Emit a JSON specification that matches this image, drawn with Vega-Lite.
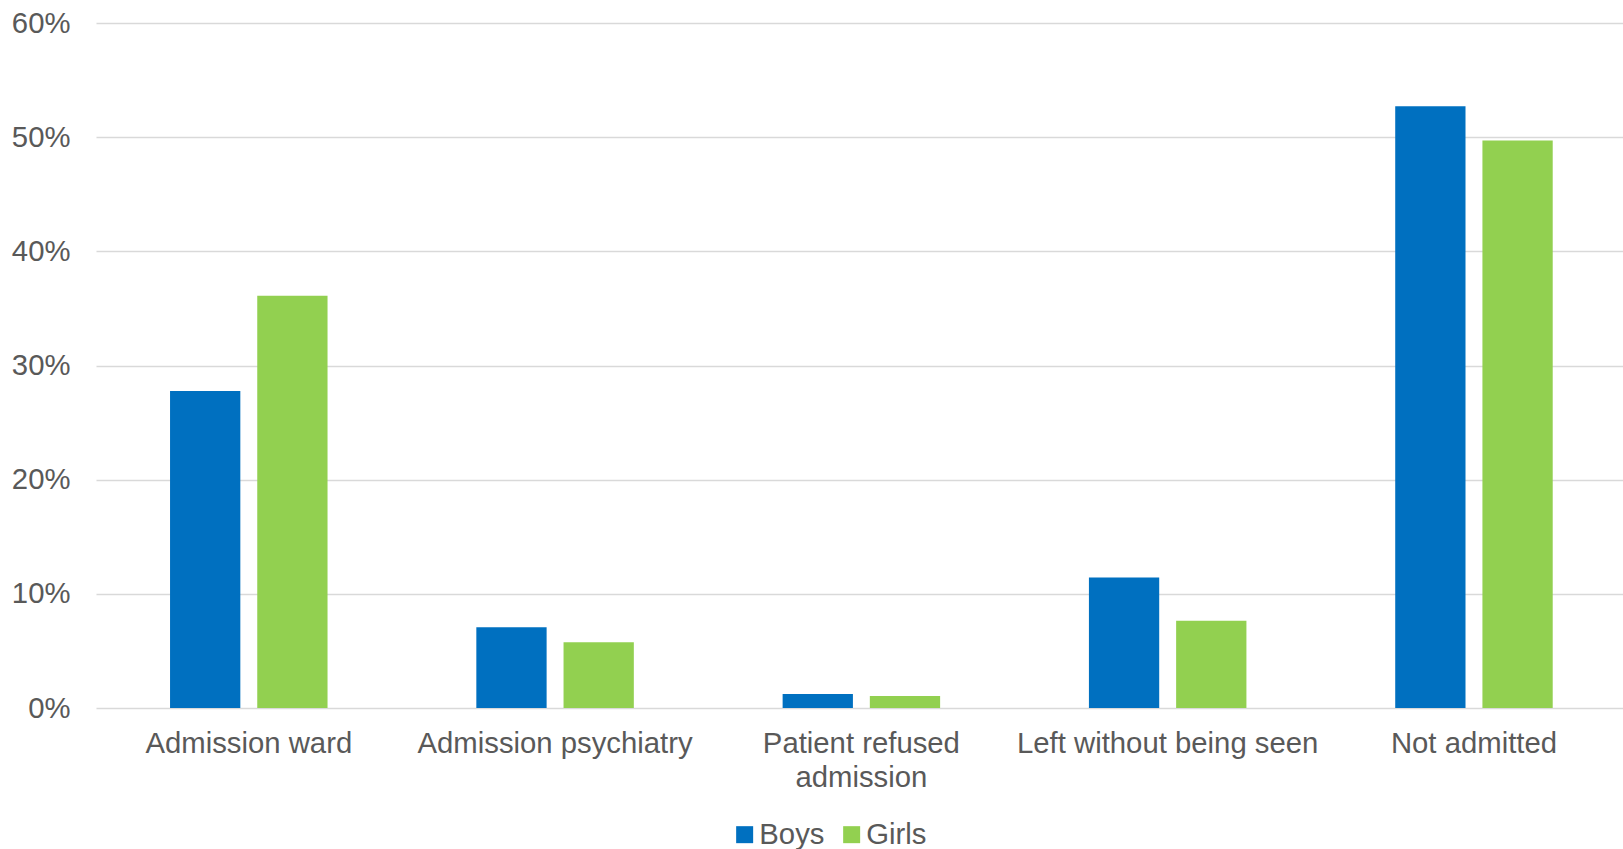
{
  "$schema": "https://vega.github.io/schema/vega-lite/v6.json",
  "width": 1527,
  "height": 685,
  "autosize": {"type": "none"},
  "padding": {"left": 96, "top": 23, "right": 0, "bottom": 141},
  "background": "white",
  "data": {
    "values": [
      {"category": "Admission ward", "sex": "Boys", "value": 0.2776},
      {"category": "Admission ward", "sex": "Girls", "value": 0.361},
      {"category": "Admission psychiatry", "sex": "Boys", "value": 0.0707},
      {"category": "Admission psychiatry", "sex": "Girls", "value": 0.0575},
      {"category": "Patient refused admission", "sex": "Boys", "value": 0.0123},
      {"category": "Patient refused admission", "sex": "Girls", "value": 0.0105},
      {"category": "Left without being seen", "sex": "Boys", "value": 0.1144},
      {"category": "Left without being seen", "sex": "Girls", "value": 0.0765},
      {"category": "Not admitted", "sex": "Boys", "value": 0.527},
      {"category": "Not admitted", "sex": "Girls", "value": 0.497}
    ]
  },
  "mark": {"type": "bar"},
  "encoding": {
    "x": {
      "field": "category",
      "type": "nominal",
      "sort": null,
      "title": null,
      "scale": {"paddingInner": 0.4858, "paddingOuter": 0.2356, "align": 0.513},
      "axis": {
        "labelAngle": 0,
        "ticks": false,
        "labelPadding": 21,
        "labelFontSize": 29.3,
        "labelFont": "Liberation Sans",
        "labelColor": "#595959",
        "labelLineHeight": 34,
        "labelLimit": 0,
        "domain": false,
        "labelExpr": "datum.label == 'Patient refused admission' ? ['Patient refused', 'admission'] : datum.label"
      }
    },
    "xOffset": {
      "field": "sex",
      "type": "nominal",
      "scale": {"paddingInner": 0.194, "paddingOuter": 0}
    },
    "y": {
      "field": "value",
      "type": "quantitative",
      "title": null,
      "scale": {"domain": [0, 0.6]},
      "axis": {
        "values": [0, 0.1, 0.2, 0.3, 0.4, 0.5, 0.6],
        "format": ".0%",
        "ticks": false,
        "domain": false,
        "labelPadding": 26,
        "labelFontSize": 29.3,
        "labelFont": "Liberation Sans",
        "labelColor": "#595959",
        "gridColor": "#D9D9D9",
        "gridWidth": 1.3
      }
    },
    "color": {
      "field": "sex",
      "type": "nominal",
      "title": null,
      "scale": {"domain": ["Boys", "Girls"], "range": ["#0070C0", "#92D050"]},
      "legend": {
        "orient": "none",
        "direction": "horizontal",
        "legendX": 634,
        "legendY": 797,
        "padding": 0,
        "symbolType": "square",
        "symbolSize": 289,
        "symbolStrokeWidth": 0,
        "labelFontSize": 29.3,
        "labelFont": "Liberation Sans",
        "labelColor": "#595959",
        "labelOffset": 0,
        "columnPadding": 12
      }
    }
  },
  "config": {"view": {"stroke": null}}
}
